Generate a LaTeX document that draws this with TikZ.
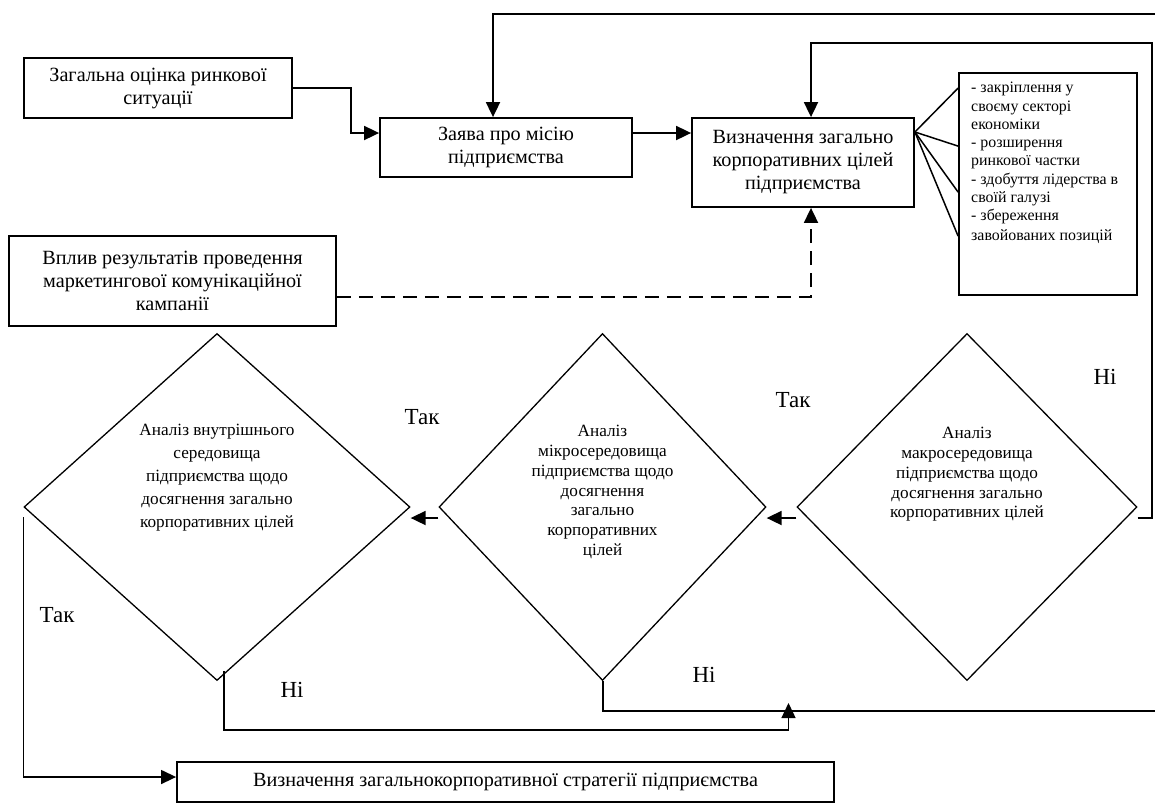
\documentclass[tikz,border=0pt]{standalone}
\usepackage{fontspec}
\setmainfont{Liberation Serif}
\usetikzlibrary{shapes.geometric,arrows.meta,calc}
\begin{document}
\begin{tikzpicture}[x=1pt,y=-1pt,
 box/.style={draw, line width=1.8pt, inner sep=0pt, align=center, font=\fontsize{20.2}{23}\selectfont},
 dia/.style={draw, diamond, line width=1.3pt, inner sep=0pt},
 dtexta/.style={align=center, font=\fontsize{17.2}{23}\selectfont, anchor=north, inner sep=0pt},
 dtextb/.style={align=center, font=\fontsize{17.2}{19.8}\selectfont, anchor=north, inner sep=0pt},
 tip/.style={-{Triangle[length=15pt,width=14pt]}},
 conn/.style={line width=1.8pt, tip},
 connthin/.style={line width=1.4pt, tip},
 plain/.style={line width=1.8pt},
 fan/.style={line width=1.5pt},
 thinline/.style={line width=1.4pt},
 lbl/.style={font=\fontsize{23}{26}\selectfont, inner sep=0pt}
]
\useasboundingbox (0,0) rectangle (1155,804);
% boxes
\node[box, minimum width=268pt, minimum height=60pt] (b1) at (158,88) {Загальна оцінка ринкової\\ситуації};
\node[box, minimum width=252pt, minimum height=59pt] (b2) at (506,147.5) {Заява про місію\\підприємства};
\node[box, minimum width=222pt, minimum height=89pt] (b3) at (803,162.5) {Визначення загально\\корпоративних цілей\\підприємства};
\node[box, minimum width=178pt, minimum height=222pt] (b4) at (1048,184) {};
\node[anchor=north west, align=left, inner sep=0pt, font=\fontsize{15.9}{18.3}\selectfont] (b4t) at (971,82) {- закріплення у\\своєму секторі\\економіки\\- розширення\\ринкової частки\\- здобуття лідерства в\\своїй галузі\\- збереження\\[1.5pt]завойованих позицій};
\node[box, minimum width=327pt, minimum height=90pt] (b5) at (172.5,281) {Вплив результатів проведення\\маркетингової комунікаційної\\кампанії};
\node[box, minimum width=657pt, minimum height=40pt] (b6) at (505.5,782) {Визначення загальнокорпоративної стратегії підприємства};
% diamonds
\node[dia, minimum width=386pt, minimum height=347pt] (d1) at (217,507) {};
\node[dia, minimum width=327pt, minimum height=347pt] (d2) at (602.5,507) {};
\node[dia, minimum width=340pt, minimum height=347pt] (d3) at (967,507) {};
\node[dtexta] (t1) at (217,424) {Аналіз внутрішнього\\середовища\\підприємства щодо\\досягнення загально\\корпоративних цілей};
\node[dtextb] (t2) at (602.5,425) {Аналіз\\мікросередовища\\підприємства щодо\\досягнення\\загально\\корпоративних\\цілей};
\node[dtextb] (t3) at (967,427) {Аналіз\\макросередовища\\підприємства щодо\\досягнення загально\\корпоративних цілей};
% helper coordinates
\coordinate (y133) at (0,133);
\coordinate (rtop) at (1155,14);
\coordinate (rc) at (1152,43);
\coordinate (c1) at (224,730);
\coordinate (join) at (788.5,703);
\coordinate (redge) at (1155,711);
% connectors
\draw[conn] (b1.east) -- ++(58,0) |- (b2.west |- y133);
\draw[conn] (b2.east |- y133) -- (b3.west |- y133);
\draw[conn] (rtop) -| ($(b2.north)+(-13,0)$);
\draw[conn] ($(d3.east)+(0,11)$) -| (rc) -| ($(b3.north)+(8,0)$);
\draw[conn, dash pattern=on 14pt off 8pt] ($(b5.east)+(0,16)$) -| ($(b3.south)+(8,0)$);
\draw[fan] ($(b3.east)+(0,-30.5)$) -- ($(b4.north west)+(0,16)$);
\draw[fan] ($(b3.east)+(0,-30.5)$) -- ($(b4.north west)+(0,74)$);
\draw[fan] ($(b3.east)+(0,-30.5)$) -- ($(b4.north west)+(0,120)$);
\draw[fan] ($(b3.east)+(0,-30.5)$) -- ($(b4.north west)+(0,164)$);
\draw[conn] ($(d3.west)+(0,11)$) -- ($(d2.east)+(0,11)$);
\draw[conn] ($(d2.west)+(0,11)$) -- ($(d1.east)+(0,11)$);
\draw[connthin] ($(d1.west)+(0,10)$) |- ($(b6.west)+(0,-5)$);
\draw[connthin] ($(d1.south)+(7,-10)$) -- (c1) -| (join);
\draw[thinline] ($(d2.south)+(0.5,0)$) |- (redge);
% labels
\node[lbl] (l1) at (422,417) {Так};
\node[lbl] (l2) at (793,400) {Так};
\node[lbl] (l3) at (57,615) {Так};
\node[lbl] (l4) at (1105,377) {Ні};
\node[lbl] (l5) at (292,690) {Ні};
\node[lbl] (l6) at (704,675) {Ні};
\end{tikzpicture}
\end{document}
